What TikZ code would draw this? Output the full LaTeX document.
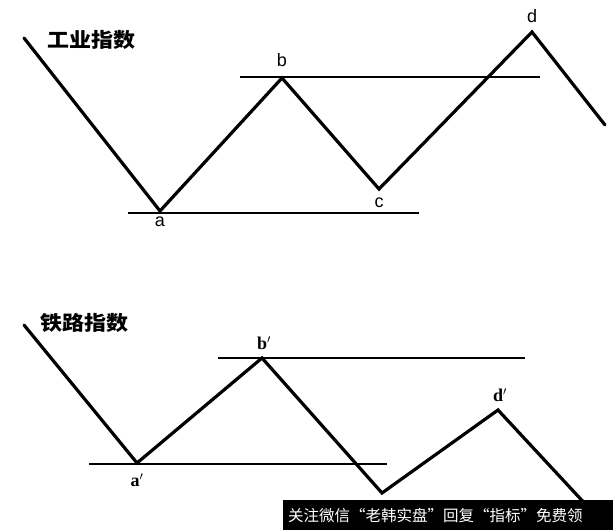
\documentclass[tikz,border=0pt]{standalone}
\usepackage{fontspec}
\setmainfont{Liberation Serif}
\setsansfont{Liberation Sans}
\newfontfamily\cjk{Noto Sans CJK SC}
\usetikzlibrary{positioning}

\tikzset{
  wave/.style={line width=3.2pt, line cap=round, line join=miter},
  level/.style={line width=1.6pt},
  ptlabel/.style={inner sep=0pt, font=\fontsize{18}{20}\selectfont\sffamily},
  ptlabelp/.style={inner sep=0pt, font=\fontsize{18}{20}\selectfont\bfseries},
  title/.style={inner sep=0pt, anchor=west, xscale=1.1, font=\fontsize{20}{22}\selectfont\cjk\bfseries},
}

\begin{document}
\begin{tikzpicture}[x=1pt, y=-1pt]

  %% ════ 工业指数 ════
  \coordinate (s1) at (24,38);
  \coordinate (a)  at (160,211);
  \coordinate (b)  at (282,78);
  \coordinate (c)  at (379,189);
  \coordinate (d)  at (532,32);
  \coordinate (e1) at (605,125);
  \coordinate (la1) at (128,213);
  \coordinate (la2) at (419,213);
  \coordinate (lb1) at (240,77);
  \coordinate (lb2) at (540,77);

  \draw[level] (la1) -- (la2);
  \draw[level] (lb1) -- (lb2);
  \draw[wave] (s1) -- (a) -- (b) -- (c) -- (d) -- (e1);

  \node[title] (t1) at (47,40) {工业指数};
  \node[ptlabel] (na) at (160,222) {a};
  \node[ptlabel] (nb) at (282,60) {b};
  \node[ptlabel] (nc) at (379,203) {c};
  \node[ptlabel] (nd) at (532,16) {d};

  %% ════ 铁路指数 ════
  \coordinate (s2) at (24,325);
  \coordinate (a')  at (137,463);
  \coordinate (b')  at (262,358);
  \coordinate (c')  at (382,493);
  \coordinate (d')  at (498,410);
  \coordinate (e2) at (602,522);
  \coordinate (la1') at (89,464);
  \coordinate (la2') at (387,464);
  \coordinate (lb1') at (218,358);
  \coordinate (lb2') at (525,358);

  \draw[level] (la1') -- (la2');
  \draw[level] (lb1') -- (lb2');
  \draw[wave] (s2) -- (a') -- (b') -- (c') -- (d') -- (e2);

  \node[title] (t2) at (40,323) {铁路指数};
  \node[ptlabelp] (na') at (137,480) {a$'$};
  \node[ptlabelp] (nb') at (264,343) {b$'$};
  \node[ptlabelp] (nd') at (500,395) {d$'$};

  %% ════ 水印条 ════
  \fill[black] (283,500) rectangle (613,530);
  \node[inner sep=0pt, anchor=west, text=white, font=\fontsize{15.5}{18}\selectfont\cjk] (wm) at (288,516)
    {关注微信“老韩实盘”回复“指标”免费领};

  \pgfresetboundingbox
  \path[use as bounding box] (0,0) rectangle (613,530);
\end{tikzpicture}
\end{document}
